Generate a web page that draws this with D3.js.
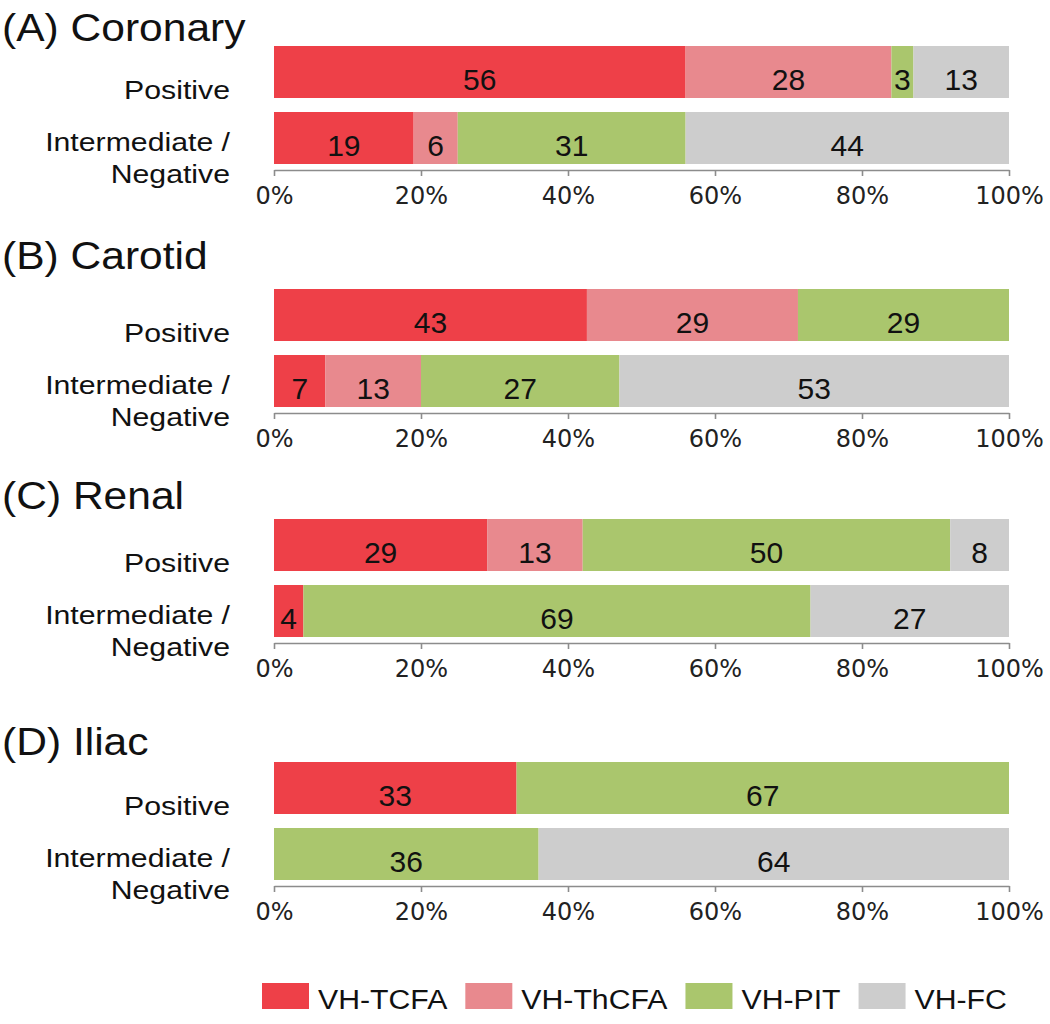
<!DOCTYPE html>
<html>
<head>
<meta charset="utf-8">
<script src="https://cdnjs.cloudflare.com/ajax/libs/d3/7.8.5/d3.min.js"></script>
<style>
    body { margin: 0; background: #fff; }
    .title { font-family: "Liberation Sans", Arial, sans-serif; font-size: 38px; fill: #111; }
    .catLabel { font-family: "Liberation Sans", Arial, sans-serif; font-size: 25px; fill: #111; }
    .valLabel { font-family: "Liberation Sans", Arial, sans-serif; font-size: 30px; fill: #111; }
    .legendText { font-family: "Liberation Sans", Arial, sans-serif; font-size: 27px; fill: #111; }
    .xAxis text { font-family: "DejaVu Sans", sans-serif; font-size: 24px; fill: #222; }
    .xAxis path, .xAxis line { stroke: #8c8c8c; stroke-width: 1.6; }
</style>
</head>
<body>
<svg id="chart" width="1050" height="1024"></svg>
<script>
const panels = ['(A) Coronary', '(B) Carotid', '(C) Renal', '(D) Iliac']
const groups = ['Positive', 'Intermediate / Negative']
const types = ['VH-TCFA', 'VH-ThCFA', 'VH-PIT', 'VH-FC']
const tickValues = [0, 20, 40, 60, 80, 100]

// rows: Positive, Intermediate / Negative ; columns follow types
const coronary = [[56, 28, 3, 13], [19, 6, 31, 44]]
const carotid = [[43, 29, 29, 0], [7, 13, 27, 53]]
const renal = [[29, 13, 50, 8], [4, 0, 69, 27]]
const iliac = [[33, 0, 67, 0], [0, 0, 36, 64]]
const panelValues = [coronary, carotid, renal, iliac]

const typeColors = {
    'VH-TCFA': '#ee4048',
    'VH-ThCFA': '#e8898e',
    'VH-PIT': '#aac66d',
    'VH-FC': '#cdcdcd'
}

// layout of the four panels (bar block top, title offset above it)
const layout = {
    panelTops: [46, 289, 519, 762],
    titleOffsets: [5, 20, 10, 7]
}

const style = {
    plotL: 274, plotR: 1009,
    blockH: 118, barPad: 14 / 66,
    labelX: 230, catStretch: 1.21,
    titleStretch: 1.12, legendStretch: 1.12
}

const svg = d3.select('#chart')

const x = d3.scaleLinear().domain([0, 1]).range([style.plotL, style.plotR])
const panelY = d3.scaleOrdinal().domain(panels).range(layout.panelTops)
const band = d3.scaleBand().domain(groups).range([0, style.blockH]).paddingInner(style.barPad).paddingOuter(0)

const stack = d3.stack()
    .keys(d3.range(types.length))
    .offset(d3.stackOffsetExpand)

function stretchedText(root, txt, tx, ty, sx, cls, anchor) {
    root.append('g')
        .attr('transform', `translate(${tx},${ty}) scale(${sx},1)`)
        .append('text')
        .classed(cls, true)
        .style('text-anchor', anchor)
        .text(txt)
}

function drawPanel(i) {
    const top = panelY(panels[i])
    const g = svg.append('g').attr('transform', `translate(0,${top})`)

    stretchedText(g, panels[i], 2, -layout.titleOffsets[i], style.titleStretch, 'title', 'start')

    const series = stack(panelValues[i])
    series.forEach((s, k) => {
        g.selectAll(null)
            .data(s.map((d, r) => ({ d, r, v: panelValues[i][r][k] })))
            .enter()
            .filter(p => p.v > 0)
            .append('rect')
            .attr('x', p => x(p.d[0]))
            .attr('width', p => x(p.d[1]) - x(p.d[0]))
            .attr('y', p => band(groups[p.r]))
            .attr('height', band.bandwidth())
            .attr('fill', typeColors[types[k]])
    })

    series.forEach((s, k) => {
        g.selectAll(null)
            .data(s.map((d, r) => ({ d, r, v: panelValues[i][r][k] })))
            .enter()
            .filter(p => p.v > 0)
            .append('text')
            .classed('valLabel', true)
            .attr('x', p => (x(p.d[0]) + x(p.d[1])) / 2)
            .attr('y', p => band(groups[p.r]) + band.bandwidth() * 0.85)
            .style('text-anchor', 'middle')
            .text(p => p.v)
    })

    // category labels
    const bw = band.bandwidth()
    stretchedText(g, 'Positive', style.labelX, band(groups[0]) + bw + 1, style.catStretch, 'catLabel', 'end')
    stretchedText(g, 'Intermediate /', style.labelX, band(groups[1]) + 39, style.catStretch, 'catLabel', 'end')
    stretchedText(g, 'Negative', style.labelX, band(groups[1]) + 71, style.catStretch, 'catLabel', 'end')

    const axis = d3.axisBottom(x)
        .tickValues(tickValues.map(t => t / 100))
        .tickFormat(t => Math.round(t * 100) + '%')
        .tickSize(6)
        .tickSizeOuter(0)
        .tickPadding(11)

    g.append('g')
        .classed('xAxis', true)
        .attr('transform', `translate(0,${style.blockH + 6})`)
        .call(axis)
}

panels.forEach((p, i) => drawPanel(i))

function drawLegend() {
    const legendG = svg.append('g').attr('transform', 'translate(262,983)')
    let cx = 0
    types.forEach(t => {
        legendG.append('rect')
            .attr('x', cx)
            .attr('y', 0)
            .attr('width', 47)
            .attr('height', 26)
            .attr('fill', typeColors[t])
        const item = legendG.append('g')
            .attr('transform', `translate(${cx + 56},26) scale(${style.legendStretch},1)`)
        const txt = item.append('text').classed('legendText', true).text(t)
        cx += 56 + txt.node().getComputedTextLength() * style.legendStretch + 18
    })
}

drawLegend()
</script>
</body>
</html>
